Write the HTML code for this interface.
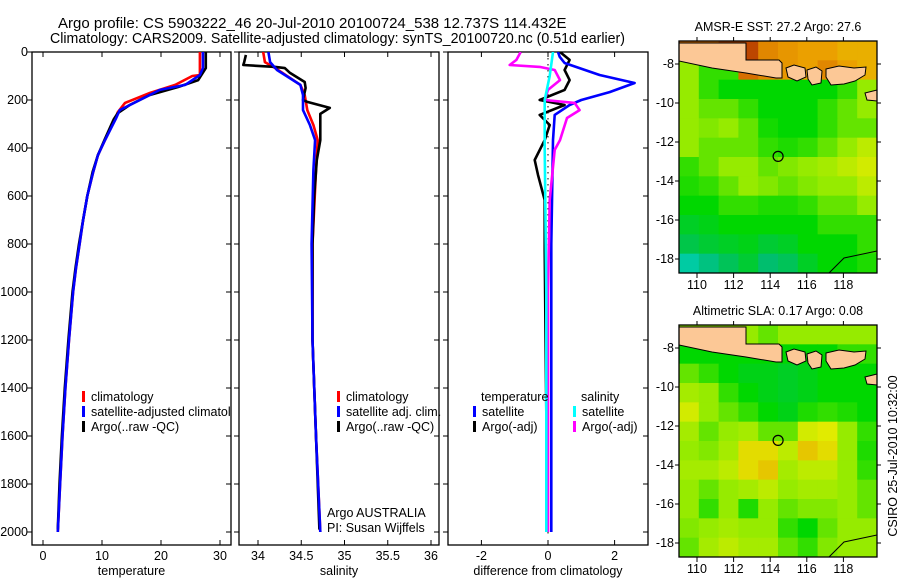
<!DOCTYPE html>
<html><head><meta charset="utf-8">
<style>
html,body{margin:0;padding:0;background:#fff;}
svg{display:block;font-family:"Liberation Sans",sans-serif;}
text{font-size:12.5px;fill:#000;}
.ttl{font-size:15px;}
</style></head>
<body>
<svg id="fig" width="900" height="580" viewBox="0 0 900 580">
<text class="ttl" x="58" y="28">Argo profile: CS 5903222_46 20-Jul-2010 20100724_538 12.737S 114.432E</text>
<text class="ttl" x="50" y="43" textLength="575" lengthAdjust="spacingAndGlyphs">Climatology: CARS2009. Satellite-adjusted climatology: synTS_20100720.nc (0.51d earlier)</text>
<g id="g1"></g>
<g id="g2"></g>
<g id="g3"></g>
<g id="m1"></g>
<g id="m2"></g>
<text transform="translate(897,456) rotate(-90)" text-anchor="middle">CSIRO 25-Jul-2010 10:32:00</text>
</svg>
<script>
// ---- temperature profiles (depth, value)
const tClimDepth=[0,96,100,137,171,212,250,280,367,430,500,600,700,800,900,1000,1200,1400,1600,1800,2000];
const tClimVal=[26.6,26.6,25.3,22.4,18.1,13.9,12.7,12.2,10.5,9.3,8.5,7.5,6.8,6.2,5.6,5.1,4.4,3.8,3.3,2.9,2.5];
const tSatDepth=[0,67,96,137,158,200,242,275,367,430,500,600,700,800,900,1000,1200,1400,1600,1800,2000];
const tSatVal=[27.1,27.1,26.6,24.1,19.8,16.4,13.0,12.4,10.5,9.3,8.5,7.5,6.8,6.2,5.6,5.1,4.4,3.8,3.3,2.9,2.5];
const tArgoDepth=[0,67,117,146,179,221,254,280,367,430,500,600,700,800,900,1000,1200,1400,1600,1800,1990];
const tArgoVal=[27.6,27.6,26.3,22.9,18.1,14.7,12.7,12.0,10.4,9.3,8.4,7.5,6.8,6.1,5.5,5.0,4.3,3.7,3.2,2.8,2.5];
// ---- salinity profiles
const sClimDepth=[0,42,67,137,179,242,304,367,492,800,1200,1600,2000];
const sClimVal=[34.06,34.08,34.2,34.49,34.54,34.57,34.64,34.69,34.67,34.63,34.63,34.67,34.72];
const sSatDepth=[0,42,75,137,179,242,304,367,492,800,1200,1600,2000];
const sSatVal=[34.12,34.14,34.22,34.49,34.52,34.52,34.6,34.66,34.64,34.62,34.63,34.67,34.72];
const sArgoDepth=[12,42,54,62,67,87,125,150,200,208,233,258,304,367,450,600,800,1200,1600,1990];
const sArgoVal=[33.86,33.84,33.83,34.2,34.31,34.37,34.54,34.55,34.52,34.57,34.83,34.72,34.72,34.72,34.68,34.65,34.63,34.63,34.67,34.71];
// ---- differences from climatology
const dTSatDepth=[0,20,46,96,129,167,200,221,262,367,800,2000];
const dTSatVal=[0.3,0.35,0.5,1.55,2.6,1.85,1.0,0.65,0.2,0.15,0.1,0.1];
const dTArgoDepth=[0,33,75,117,158,200,221,262,304,367,450,512,617,825,1500,1990];
const dTArgoVal=[0.36,0.65,0.5,0.65,0.5,-0.25,0.5,-0.25,0.05,-0.1,-0.4,-0.3,-0.1,-0.1,-0.05,-0.05];
const dSSatDepth=[0,100,200,400,1000,2000];
const dSSatVal=[0.15,0.05,-0.1,-0.1,-0.05,-0.05];
const dSArgoDepth=[0,33,54,62,75,117,158,200,212,242,275,367,408,617,1000,2000];
const dSArgoVal=[-0.82,-0.95,-1.15,-0.25,0.2,0.36,0.0,-0.1,0.8,0.95,0.57,0.36,0.2,0.05,0.0,0.0];
// ---- axis ticks
const depthTicks=[0,200,400,600,800,1000,1200,1400,1600,1800,2000];
const tTicks=[0,10,20,30];
const sTicks=[34,34.5,35,35.5,36];
const dTicks=[-2,0,2];
const lonTicks=[110,112,114,116,118];
const latTicks=[-8,-10,-12,-14,-16,-18];
// ---- map fields (0..1 colour index), rows north->south
const sstGrid=[
[0.9,0.9,0.95,0.95,0.85,0.82,0.8,0.8,0.78,0.78],
[0.6,0.5,0.5,0.9,0.85,0.82,0.8,0.85,0.8,0.78],
[0.6,0.5,0.45,0.45,0.45,0.45,0.45,0.45,0.5,0.6],
[0.6,0.55,0.55,0.5,0.45,0.45,0.45,0.5,0.55,0.6],
[0.6,0.58,0.6,0.55,0.47,0.45,0.45,0.5,0.55,0.55],
[0.6,0.55,0.55,0.55,0.5,0.48,0.5,0.55,0.6,0.65],
[0.5,0.55,0.6,0.6,0.55,0.58,0.6,0.62,0.65,0.68],
[0.48,0.5,0.55,0.6,0.58,0.55,0.58,0.6,0.6,0.65],
[0.45,0.45,0.5,0.5,0.48,0.48,0.5,0.55,0.55,0.6],
[0.4,0.42,0.45,0.45,0.45,0.45,0.45,0.5,0.5,0.5],
[0.35,0.38,0.4,0.42,0.38,0.4,0.45,0.45,0.45,0.5],
[0.15,0.25,0.33,0.38,0.3,0.33,0.4,0.45,0.45,0.48]];
const slaGrid=[
[0.6,0.6,0.6,0.6,0.55,0.6,0.6,0.6,0.6,0.6],
[0.45,0.45,0.45,0.45,0.45,0.45,0.45,0.45,0.5,0.5],
[0.55,0.5,0.45,0.42,0.42,0.4,0.42,0.45,0.45,0.45],
[0.62,0.6,0.5,0.45,0.42,0.4,0.42,0.45,0.45,0.45],
[0.68,0.6,0.55,0.5,0.45,0.42,0.48,0.5,0.48,0.45],
[0.62,0.55,0.6,0.62,0.55,0.55,0.68,0.7,0.6,0.5],
[0.6,0.58,0.62,0.72,0.72,0.65,0.75,0.72,0.6,0.48],
[0.62,0.62,0.65,0.72,0.75,0.62,0.65,0.65,0.6,0.5],
[0.6,0.55,0.6,0.62,0.65,0.6,0.62,0.62,0.6,0.55],
[0.6,0.5,0.6,0.48,0.6,0.55,0.58,0.58,0.6,0.55],
[0.58,0.6,0.62,0.6,0.6,0.5,0.45,0.55,0.6,0.6],
[0.55,0.62,0.65,0.62,0.62,0.55,0.5,0.58,0.6,0.6]];
const argoLon=114.432, argoLat=-12.737;

const NS='http://www.w3.org/2000/svg';
function mk(parent,tag,attrs){const e=document.createElementNS(NS,tag);for(const k in attrs)e.setAttribute(k,attrs[k]);parent.appendChild(e);return e;}
const yD=d=>52+d*0.24;
const TOP=52,BOT=545;

function panel(gid,L,R,xf,ticks,label,fmt){
  const g=document.getElementById(gid);
  const fr=mk(g,'rect',{x:L,y:TOP,width:R-L,height:BOT-TOP,fill:'none',stroke:'#000','stroke-width':1.3});
  
  
  ticks.forEach(v=>{const x=xf(v);
    mk(g,'line',{x1:x,x2:x,y1:BOT,y2:BOT-5,stroke:'#000'});
    mk(g,'line',{x1:x,x2:x,y1:TOP,y2:TOP+5,stroke:'#000'});
    const t=mk(g,'text',{x:x,y:BOT+15,'text-anchor':'middle'});t.textContent=fmt(v);
    
    });
  depthTicks.forEach(d=>{const y=yD(d);
    mk(g,'line',{x1:L-5,x2:L,y1:y,y2:y,stroke:'#000'});
    mk(g,'line',{x1:R-5,x2:R,y1:y,y2:y,stroke:'#000'});
    if(gid==='g1'){const t=mk(g,'text',{x:L-4,y:y+4,'text-anchor':'end'});t.textContent=d;
      
      }});
  const xl=mk(g,'text',{x:(L+R)/2,y:575,'text-anchor':'middle'});xl.textContent=label;
  
  
  return g;
}
function series(g,depths,vals,xf,color,name,clipId){
  const pts=depths.map((d,i)=>xf(vals[i]).toFixed(1)+','+yD(d).toFixed(1)).join(' ');
  const p=mk(g,'polyline',{points:pts,fill:'none',stroke:color,'stroke-width':2.6,'stroke-linejoin':'round'});
  if(clipId)p.setAttribute('clip-path','url(#'+clipId+')');
  
  
}
function legendRow(g,x,y,color,label,name){
  if(color)mk(g,'rect',{x:x,y:y-6,width:3,height:11,fill:color});
  const t=mk(g,'text',{x:x+(color?9:8),y:y+4});t.textContent=label;
  
  
}
const svg=document.getElementById('fig');
const defs=mk(svg,'defs',{});
[['c1',32,231],['c2',239,439],['c3',448,648]].forEach(([id,L,R])=>{const c=mk(defs,'clipPath',{id:id});mk(c,'rect',{x:L,y:TOP,width:R-L,height:BOT-TOP});});

// Panel 1
const xT=v=>43+v*5.9;
const g1=panel('g1',32,231,xT,tTicks,'temperature',v=>v);
series(g1,tClimDepth,tClimVal,xT,'#ff0000','temp-climatology-line','c1');
series(g1,tArgoDepth,tArgoVal,xT,'#000000','temp-argo-line','c1');
series(g1,tSatDepth,tSatVal,xT,'#0000ff','temp-satellite-line','c1');
const lg1=mk(g1,'g',{'clip-path':'url(#c1)'});
legendRow(lg1,82,397,'#ff0000','climatology','legend-climatology');
legendRow(lg1,82,412,'#0000ff','satellite-adjusted climatology','legend-satellite-adjusted');
legendRow(lg1,82,427,'#000000','Argo(..raw -QC)','legend-argo');

// Panel 2
const xS=v=>258+(v-34)*86.5;
const g2=panel('g2',239,439,xS,sTicks,'salinity',v=>v);
series(g2,sClimDepth,sClimVal,xS,'#ff0000','sal-climatology-line','c2');
series(g2,sArgoDepth,sArgoVal,xS,'#000000','sal-argo-line','c2');
series(g2,sSatDepth,sSatVal,xS,'#0000ff','sal-satellite-line','c2');
legendRow(g2,337,397,'#ff0000','climatology','legend-climatology');
legendRow(g2,337,412,'#0000ff','satellite adj. clim.','legend-satellite-adj');
legendRow(g2,337,427,'#000000','Argo(..raw -QC)','legend-argo');
const a1=mk(g2,'text',{x:327,y:517});a1.textContent='Argo AUSTRALIA';


const a2=mk(g2,'text',{x:327,y:532});a2.textContent='PI: Susan Wijffels';



// Panel 3
const xDf=v=>548+v*33.3;
const g3=panel('g3',448,648,xDf,dTicks,'difference from climatology',v=>v);
for(let d=0;d<=2000;d+=25){mk(g3,'rect',{x:xDf(0)-0.5,y:yD(d),width:1,height:1.5,fill:'#000'});}
series(g3,dTArgoDepth,dTArgoVal,xDf,'#000000','diff-temp-argo-line','c3');
series(g3,dTSatDepth,dTSatVal,xDf,'#0000ff','diff-temp-satellite-line','c3');
series(g3,dSArgoDepth,dSArgoVal,xDf,'#ff00ff','diff-sal-argo-line','c3');
series(g3,dSSatDepth,dSSatVal,xDf,'#00ffff','diff-sal-satellite-line','c3');
legendRow(g3,473,397,null,'temperature','legend-temperature-header');
legendRow(g3,473,412,'#0000ff','satellite','legend-temp-satellite');
legendRow(g3,473,427,'#000000','Argo(-adj)','legend-temp-argo');
legendRow(g3,573,397,null,'salinity','legend-salinity-header');
legendRow(g3,573,412,'#00ffff','satellite','legend-sal-satellite');
legendRow(g3,573,427,'#ff00ff','Argo(-adj)','legend-sal-argo');

// Maps
const cstops=[[0,[0,215,215]],[0.3,[0,190,110]],[0.45,[0,215,0]],[0.6,[150,235,0]],[0.7,[225,235,0]],[0.8,[235,160,0]],[0.9,[215,110,0]],[1,[160,30,0]]];
function cmap(v){for(let i=1;i<cstops.length;i++){if(v<=cstops[i][0]){const [a,ca]=cstops[i-1],[b,cb]=cstops[i];const t=(v-a)/(b-a);return 'rgb('+ca.map((c,j)=>Math.round(c+(cb[j]-c)*t)).join(',')+')';}}return 'rgb(160,30,0)';}
const landPolys=[
 [[0,2],[67,2],[67,19],[100,19],[103,22],[103,37],[97,37],[67,32],[33,27],[0,20]],
 [[107,27],[115,24],[126,27],[127,36],[118,40],[109,36]],
 [[128,29],[137,26],[143,30],[142,42],[133,44],[129,38]],
 [[147,28],[160,25],[175,27],[187,26],[186,34],[176,40],[165,43],[152,44],[147,36]],
 [[186,52],[198,49],[198,60],[188,59]]];
function drawMap(gid,top,grid,title){
  const g=document.getElementById(gid);
  const L=679,R=877,B=top+232,W=R-L,H=B-top;
  const xL=lon=>697+(lon-110)*18.3;
  const yL=lat=>top+23+(-8-lat)*19.5;
  const rows=grid.length,cols=grid[0].length;
  grid.forEach((row,r)=>row.forEach((v,c)=>{
    const cell=mk(g,'rect',{x:L+c*W/cols,y:top+r*H/rows,width:W/cols+0.5,height:H/rows+0.5,fill:cmap(v)});
    
    }));
  landPolys.forEach(p=>{const pl=mk(g,'polygon',{points:p.map(q=>(L+q[0])+','+(top+q[1])).join(' '),fill:'#fcc896',stroke:'#000','stroke-width':1});
    
    });
  mk(g,'polyline',{points:(L+150)+','+B+' '+(L+165)+','+(B-15)+' '+(L+198)+','+(B-22),fill:'none',stroke:'#000','stroke-width':1});
  const ci=mk(g,'circle',{cx:xL(argoLon),cy:yL(argoLat),r:5,fill:'none',stroke:'#000','stroke-width':1.2});
  
  
  const fr=mk(g,'rect',{x:L,y:top,width:W,height:H,fill:'none',stroke:'#000','stroke-width':1.3});
  
  
  lonTicks.forEach(lon=>{const x=xL(lon);
    mk(g,'line',{x1:x,x2:x,y1:B,y2:B+5,stroke:'#000'});mk(g,'line',{x1:x,x2:x,y1:top,y2:top-4,stroke:'#000'});
    const t=mk(g,'text',{x:x,y:B+16,'text-anchor':'middle'});t.textContent=lon;
    
    });
  latTicks.forEach(lat=>{const y=yL(lat);
    mk(g,'line',{x1:L-4,x2:L,y1:y,y2:y,stroke:'#000'});mk(g,'line',{x1:R,x2:R+4,y1:y,y2:y,stroke:'#000'});
    const t=mk(g,'text',{x:L-5,y:y+4,'text-anchor':'end'});t.textContent=lat;
    
    });
  const tt=mk(g,'text',{x:(L+R)/2,y:top-10,'text-anchor':'middle'});tt.textContent=title;
  
  
}
drawMap('m1',41,sstGrid,'AMSR-E SST: 27.2 Argo: 27.6');
drawMap('m2',325,slaGrid,'Altimetric SLA: 0.17 Argo: 0.08');
</script>
</body></html>
